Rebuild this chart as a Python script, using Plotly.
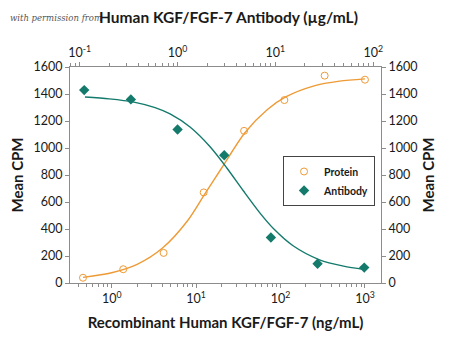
import plotly.graph_objects as go

# Recombinant protein dose (ng/mL) vs. proliferation (Mean CPM)
protein_dose = [0.457, 1.37, 4.12, 12.3, 37.0, 111, 333, 1000]
protein_cpm = [39, 102, 223, 671, 1127, 1355, 1536, 1506]

# Neutralizing antibody dose (ug/mL) vs. proliferation (Mean CPM)
antibody_dose = [0.111, 0.333, 1.0, 3.0, 9.0, 27.0, 81.0]
antibody_cpm = [1429, 1360, 1137, 946, 337, 143, 114]

# Fitted dose-response curves
protein_fit_dose = [0.457, 1.0, 2.0, 4.0, 8.0, 12.7, 20, 38, 70, 115, 250, 500, 1000]
protein_fit_cpm = [42, 76, 138, 259, 465, 660, 850, 1115, 1285, 1378, 1460, 1495, 1512]
antibody_fit_dose = [0.113, 0.2, 0.348, 0.589, 0.838, 1.34, 2.15, 3.19, 4.7, 7.0, 9.6, 15.3, 28.3, 49.8, 81.0]
antibody_fit_cpm = [1378, 1364, 1342, 1299, 1252, 1155, 1009, 852, 683, 516, 402, 274, 172, 125, 100]

y_ticks = [0, 200, 400, 600, 800, 1000, 1200, 1400, 1600]
bottom_tickvals = [1, 10, 100, 1000]
bottom_ticktext = ["10<sup>0</sup>", "10<sup>1</sup>", "10<sup>2</sup>", "10<sup>3</sup>"]
top_tickvals = [0.1, 1, 10, 100]
top_ticktext = ["10<sup>-1</sup>", "10<sup>0</sup>", "10<sup>1</sup>", "10<sup>2</sup>"]

ORANGE = "#EE9A35"
TEAL = "#137A6C"
AXIS = "#8C8C8C"
TXT = "#1a1a1a"
FONT = "Lato"

fig = go.Figure()

fig.add_trace(go.Scatter(
    x=protein_fit_dose, y=protein_fit_cpm, mode="lines",
    line=dict(color=ORANGE, width=1.4, shape="spline", smoothing=0.8),
    showlegend=False, hoverinfo="skip", xaxis="x", yaxis="y"))
fig.add_trace(go.Scatter(
    x=antibody_fit_dose, y=antibody_fit_cpm, mode="lines",
    line=dict(color=TEAL, width=1.4, shape="spline", smoothing=0.8),
    showlegend=False, hoverinfo="skip", xaxis="x2", yaxis="y2"))

fig.add_trace(go.Scatter(
    x=protein_dose, y=protein_cpm, mode="markers", name="Protein",
    marker=dict(symbol="circle-open", size=7, color=ORANGE, line=dict(width=1, color=ORANGE)),
    xaxis="x", yaxis="y"))
fig.add_trace(go.Scatter(
    x=antibody_dose, y=antibody_cpm, mode="markers", name="Antibody",
    marker=dict(symbol="diamond", size=8, color=TEAL),
    xaxis="x2", yaxis="y2"))

tickfont = dict(family=FONT, size=12.5, color=TXT)
minor = dict(ticks="outside", ticklen=3, tickcolor=AXIS, showgrid=False, dtick="D1")

fig.update_layout(
    width=450, height=347,
    margin=dict(l=70, r=69, t=67, b=64),
    paper_bgcolor="white", plot_bgcolor="white",
    font=dict(family=FONT, color=TXT),
    xaxis=dict(
        type="log", range=[-0.494, 3.19], side="bottom", anchor="y",
        tickvals=bottom_tickvals, ticktext=bottom_ticktext, tickfont=tickfont,
        ticks="outside", ticklen=4, tickcolor=AXIS, minor=minor,
        showline=True, linecolor=AXIS, linewidth=1, showgrid=False, zeroline=False,
        title=dict(text="<b>Recombinant Human KGF/FGF-7 (ng/mL)</b>",
                   font=dict(family=FONT, size=15, color=TXT), standoff=12),
    ),
    xaxis2=dict(
        type="log", range=[-1.10, 2.08], side="top", overlaying="x", anchor="y2",
        tickvals=top_tickvals, ticktext=top_ticktext, tickfont=tickfont,
        ticks="outside", ticklen=4, tickcolor=AXIS, minor=minor,
        showline=True, linecolor=AXIS, linewidth=1, showgrid=False, zeroline=False,
    ),
    yaxis=dict(
        range=[0, 1600], tickvals=y_ticks, tickfont=tickfont,
        ticks="outside", ticklen=4, tickcolor=AXIS,
        showline=True, linecolor=AXIS, linewidth=1, showgrid=False, zeroline=False,
        title=dict(text="<b>Mean CPM</b>", font=dict(family=FONT, size=15, color=TXT), standoff=6),
    ),
    yaxis2=dict(
        range=[0, 1600], tickvals=y_ticks, tickfont=tickfont, side="right",
        overlaying="y", anchor="x2",
        ticks="outside", ticklen=4, tickcolor=AXIS,
        showline=True, linecolor=AXIS, linewidth=1, showgrid=False, zeroline=False,
        title=dict(text="<b>Mean CPM</b>", font=dict(family=FONT, size=15, color=TXT), standoff=6),
    ),
    legend=dict(
        x=0.685, y=0.588, xanchor="left", yanchor="top",
        bgcolor="white", bordercolor="#444444", borderwidth=1,
        font=dict(family=FONT, size=10.5, color=TXT, weight="bold"),
        tracegroupgap=0, itemwidth=30,
    ),
    annotations=[
        dict(text="<i>with permission from</i>", xref="paper", yref="paper",
             x=-0.2, y=1.225, xanchor="left", yanchor="middle", showarrow=False,
             font=dict(family="DejaVu Serif", size=8.5, color="#555555")),
        dict(text="<b>Human KGF/FGF-7 Antibody (\u00b5g/mL)</b>", xref="paper", yref="paper",
             x=0.51, y=1.23, xanchor="center", yanchor="middle", showarrow=False,
             font=dict(family=FONT, size=15.5, color=TXT)),
    ],
)

fig.write_html("out.html")
